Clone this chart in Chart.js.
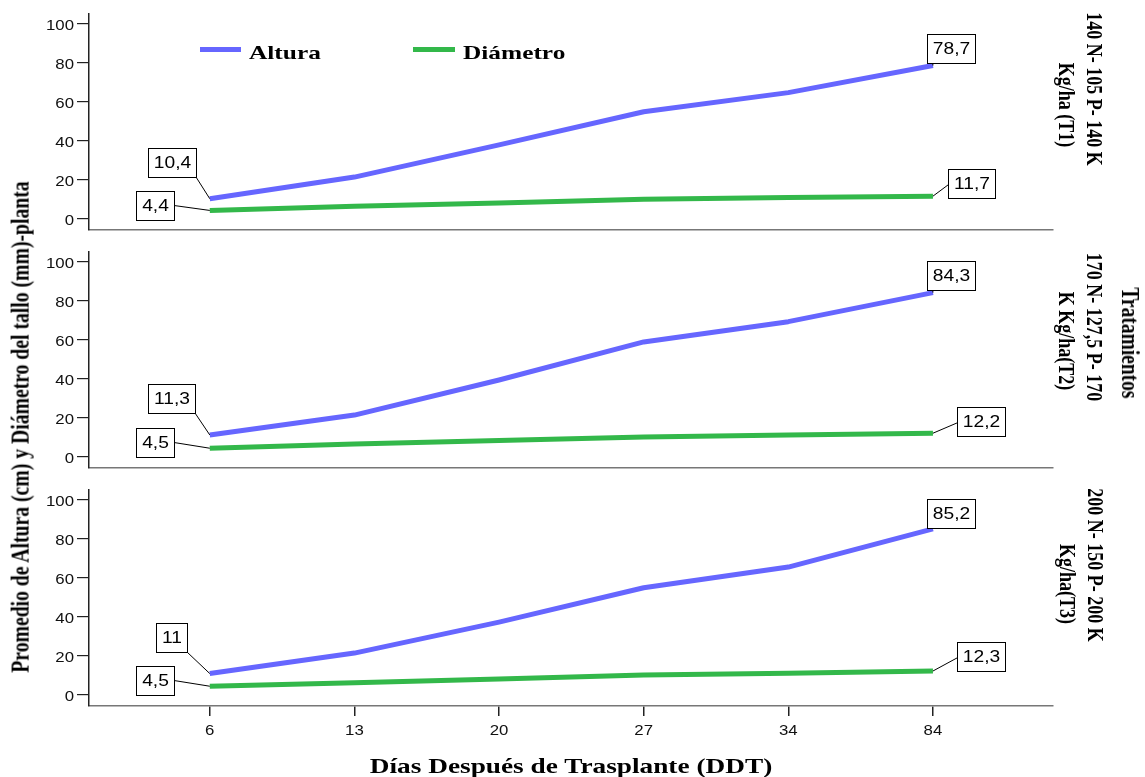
<!DOCTYPE html>
<html><head><meta charset="utf-8">
<script src="https://cdn.jsdelivr.net/npm/chart.js@4.4.1/dist/chart.umd.min.js"></script>
<style>
html,body{margin:0;padding:0;background:#fff;}
#wrap{position:relative;width:1145px;height:777px;overflow:hidden;background:#fff;}
canvas{position:absolute;left:0;}
.t{position:absolute;white-space:nowrap;line-height:1;color:#000;font-family:"Liberation Serif","Times New Roman",serif;font-weight:bold;}
.sw{position:absolute;height:5px;}
</style></head><body><div id="wrap">
<canvas id="c1" width="1145" height="240" style="top:0px"></canvas>
<canvas id="c2" width="1145" height="240" style="top:238px"></canvas>
<canvas id="c3" width="1145" height="280" style="top:476px"></canvas>
</div>
<script>
// ---- data ----
const categories = ['6', '13', '20', '27', '34', '84'];
const yTickValues = [0, 20, 40, 60, 80, 100];
const seriesNames = ['Altura', 'Diámetro'];
const alturaT1   = [10.4, 21.5, 38.0, 55.0, 64.8, 78.7];
const diametroT1 = [4.4, 6.6, 8.2, 10.1, 11.0, 11.7];
const alturaT2   = [11.3, 21.5, 39.5, 59.0, 69.4, 84.3];
const diametroT2 = [4.5, 6.7, 8.4, 10.3, 11.3, 12.2];
const alturaT3   = [11.0, 21.5, 37.4, 55.0, 65.6, 85.2];
const diametroT3 = [4.5, 6.3, 8.2, 10.2, 11.2, 12.3];
const treatmentLabels = [
  ['140 N- 105 P- 140 K', 'Kg/ha (T1)'],
  ['170 N- 127,5 P- 170', 'K Kg/ha(T2)'],
  ['200 N- 150 P- 200 K', 'Kg/ha(T3)']
];
const groupTitle = 'Tratamientos';
const xTitle = 'Días Después de Trasplante (DDT)';
const yTitle = 'Promedio de Altura (cm) y Diámetro del tallo (mm)-planta';

// ---- style ----
const S = 1.3;   // horizontal stretch of the reference's serif text
const SN = 1.2;  // horizontal stretch of the sans text
const COLORS = ['#6666ff', '#33b84a'];

// label box offsets (pixels from the data point): [series][first,last]
const boxLayouts = [
  [[{dx:-38,dy:-36,ax:1,ay:1},{dx:18,dy:-17,ax:0.12,ay:1}],[{dx:-55,dy:-5,ax:1,ay:0.5},{dx:39,dy:-13,ax:0,ay:0.55}]],
  [[{dx:-38,dy:-36,ax:1,ay:1},{dx:18,dy:-17,ax:0.12,ay:1}],[{dx:-55,dy:-6,ax:1,ay:0.5},{dx:48,dy:-12,ax:0,ay:0.55}]],
  [[{dx:-38,dy:-36,ax:1,ay:1},{dx:18,dy:-15,ax:0.12,ay:1}],[{dx:-55,dy:-6,ax:1,ay:0.5},{dx:48,dy:-15,ax:0,ay:0.55}]]
];

function fmt(v){ return String(v).replace('.', ','); }

const valueBoxes = {
  id: 'valueBoxes',
  afterDatasetsDraw(chart, args, opts) {
    const ctx = chart.ctx;
    chart.data.datasets.forEach((ds, di) => {
      const meta = chart.getDatasetMeta(di);
      const n = ds.data.length;
      [0, n - 1].forEach((idx, k) => {
        const el = meta.data[idx];
        const px = el.x, py = el.y;
        const L = opts.layout[di][k];
        const txt = fmt(ds.data[idx].y);
        ctx.save();
        ctx.font = '16px "Liberation Sans", Arial, sans-serif';
        const tw = ctx.measureText(txt).width * SN;
        const w = Math.round(tw + 11), h = 29;
        const left = Math.round(px + L.dx - w / 2), top = Math.round(py + L.dy - h / 2);
        ctx.strokeStyle = '#000'; ctx.lineWidth = 1;
        ctx.beginPath(); ctx.moveTo(left + L.ax * w, top + L.ay * h); ctx.lineTo(px, py); ctx.stroke();
        ctx.fillStyle = '#fff'; ctx.fillRect(left, top, w, h);
        ctx.strokeRect(left + 0.5, top + 0.5, w, h);
        ctx.fillStyle = '#000'; ctx.textAlign = 'center'; ctx.textBaseline = 'middle';
        ctx.translate(left + w / 2 + 0.5, top + h / 2 + 1.5); ctx.scale(SN, 1);
        ctx.fillText(txt, 0, 0);
        ctx.restore();
      });
    });
  }
};

const tickText = {
  id: 'tickText',
  afterDraw(chart, args, opts) {
    const ctx = chart.ctx, ys = chart.scales.y, xs = chart.scales.x;
    ctx.save();
    ctx.fillStyle = '#111';
    ctx.font = '14px "Liberation Sans", Arial, sans-serif';
    ctx.textBaseline = 'middle';
    ys.ticks.forEach(t => {
      const py = ys.getPixelForValue(t.value);
      ctx.save(); ctx.translate(ys.right - 15, py + 2); ctx.scale(SN, 1);
      ctx.textAlign = 'right'; ctx.fillText(String(t.value), 0, 0); ctx.restore();
    });
    if (opts.showX) {
      xs.ticks.forEach(t => {
        const px = xs.getPixelForValue(t.value);
        ctx.save(); ctx.translate(px, xs.top + 25); ctx.scale(SN, 1);
        ctx.textAlign = 'center'; ctx.fillText(categories[t.value], 0, 0); ctx.restore();
      });
    }
    ctx.restore();
  }
};

function makePanel(id, alt, dia, panelIdx, showX) {
  const series = [alt, dia];
  new Chart(document.getElementById(id), {
    type: 'line',
    data: {
      datasets: series.map((arr, si) => ({
        label: seriesNames[si],
        data: arr.map((v, i) => ({x: i, y: v})),
        borderColor: COLORS[si],
        backgroundColor: COLORS[si],
        borderWidth: 5,
        pointRadius: 0,
        tension: 0,
        borderJoinStyle: 'round',
        borderCapStyle: 'butt',
        fill: false
      }))
    },
    options: {
      responsive: false,
      animation: false,
      devicePixelRatio: 1,
      layout: {padding: {top: 14, right: 92, bottom: 0, left: 0}},
      plugins: {
        legend: {display: false},
        tooltip: {enabled: false},
        valueBoxes: {layout: boxLayouts[panelIdx]},
        tickText: {showX: showX}
      },
      scales: {
        x: {
          type: 'linear', min: -0.835, max: 5.83,
          afterBuildTicks: s => { s.ticks = categories.map((c, i) => ({value: i})); },
          afterFit: s => { s.height = showX ? 50 : 10; },
          ticks: {display: false},
          grid: {drawOnChartArea: false, drawTicks: showX, tickLength: 10, color: '#222', lineWidth: 1.5},
          border: {display: true, color: '#777', width: 1.5}
        },
        y: {
          min: -5.64, max: 105.13,
          afterBuildTicks: s => { s.ticks = yTickValues.map(v => ({value: v})); },
          afterFit: s => { s.width = 89; },
          ticks: {display: false},
          grid: {drawOnChartArea: false, drawTicks: true, tickLength: 12, color: '#222', lineWidth: 1.2},
          border: {display: true, color: '#222', width: 1.5}
        }
      }
    },
    plugins: [valueBoxes, tickText]
  });
}

makePanel('c1', alturaT1, diametroT1, 0, false);
makePanel('c2', alturaT2, diametroT2, 1, false);
makePanel('c3', alturaT3, diametroT3, 2, true);

// ---- text ----
const wrap = document.getElementById('wrap');
function addText(txt, x, y, size, rot, sx, sy) {
  const d = document.createElement('div');
  d.className = 't';
  d.textContent = txt;
  d.style.left = x + 'px'; d.style.top = y + 'px';
  d.style.fontSize = size + 'px';
  d.style.transform = 'translate(-50%,-50%) rotate(' + rot + 'deg) scale(' + sx + ',' + sy + ')';
  wrap.appendChild(d);
}
function addSwatch(x, y, w, color) {
  const d = document.createElement('div');
  d.className = 'sw';
  d.style.left = x + 'px'; d.style.top = y + 'px'; d.style.width = w + 'px'; d.style.background = color;
  wrap.appendChild(d);
}
// legend
addSwatch(200, 47, 41, COLORS[0]);
addSwatch(413, 47, 42, COLORS[1]);
const leg = [[seriesNames[0], 249], [seriesNames[1], 463]];
leg.forEach(([t, x]) => {
  const d = document.createElement('div');
  d.className = 't'; d.textContent = t;
  d.style.left = x + 'px'; d.style.top = '43px'; d.style.fontSize = '19.5px';
  d.style.transformOrigin = '0 50%'; d.style.transform = 'scale(' + S + ',1)';
  wrap.appendChild(d);
});
// axis titles
addText(xTitle, 571, 766, 21, 0, S, 1);
addText(yTitle, 21, 427, 19.7, -90, 1, S);
// treatment labels (right side)
const rightPos = [
  [[1095, 89], [1067, 105]],
  [[1095, 327], [1067, 341]],
  [[1096, 565], [1068, 584]]
];
treatmentLabels.forEach((lines, p) => {
  lines.forEach((ln, j) => addText(ln, rightPos[p][j][0], rightPos[p][j][1], 18, 90, 1, S));
});
addText(groupTitle, 1130, 343, 19.5, 90, 1, S);
</script></body></html>
